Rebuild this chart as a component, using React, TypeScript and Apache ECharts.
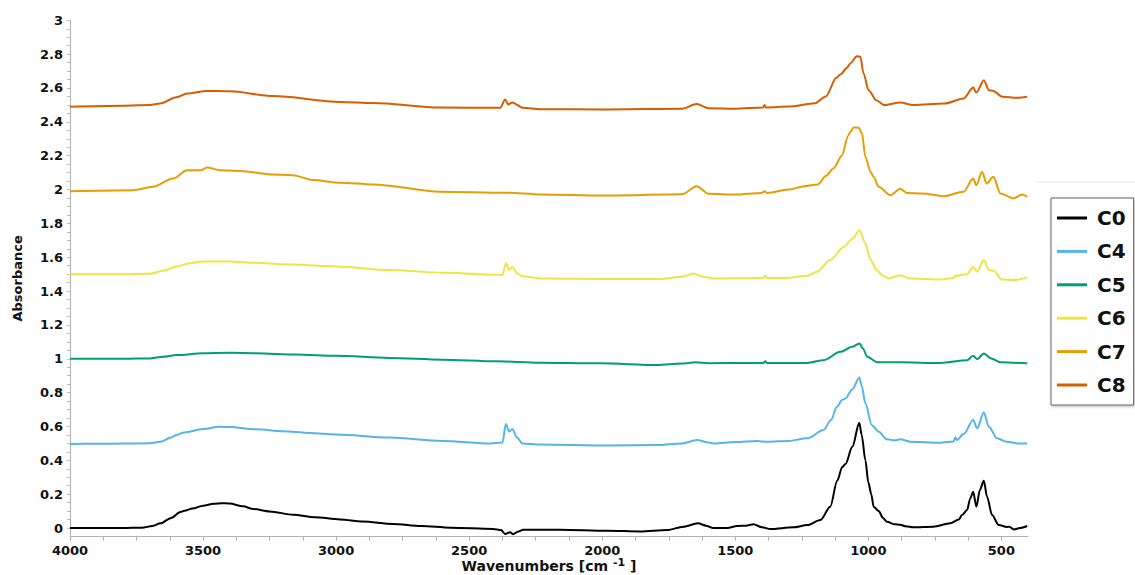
import React, { useEffect, useRef } from "react";
import * as echarts from "echarts";

const seriesNames = ["C0", "C4", "C5", "C6", "C7", "C8"];
const seriesColors = ["#000000", "#56b4e9", "#009e73", "#f0e442", "#e69f00", "#d55e00"];

const c0Data = [
  [4000, 0], [3900, 0], [3800, 0], [3730, 0.002], [3690, 0.012], [3660, 0.028], [3620, 0.06], [3585, 0.095],
  [3570, 0.102], [3540, 0.115], [3500, 0.132], [3460, 0.144], [3430, 0.147], [3400, 0.145], [3350, 0.128],
  [3310, 0.112], [3250, 0.098], [3160, 0.078], [3080, 0.064], [2985, 0.051], [2900, 0.038], [2786, 0.024],
  [2680, 0.012], [2570, 0.002], [2410, -0.005], [2380, -0.012], [2365, -0.035], [2346, -0.025], [2335, -0.036],
  [2315, -0.02], [2297, -0.01], [2160, -0.01], [1980, -0.016], [1857, -0.02], [1756, -0.012], [1695, 0.008],
  [1640, 0.028], [1610, 0.014], [1583, 0.0], [1530, 0.0], [1493, 0.012], [1460, 0.014], [1432, 0.022],
  [1400, 0.005], [1368, -0.006], [1282, 0.004], [1229, 0.018], [1180, 0.047], [1143, 0.126], [1117, 0.28],
  [1098, 0.36], [1086, 0.378], [1060, 0.48], [1034, 0.622], [1025, 0.55], [1011, 0.4], [1000, 0.27],
  [989, 0.2], [980, 0.126], [961, 0.1], [945, 0.06], [930, 0.037], [900, 0.022], [880, 0.02], [860, 0.01],
  [831, 0.004], [756, 0.008], [692, 0.028], [660, 0.05], [648, 0.077], [629, 0.106], [617, 0.175],
  [606, 0.215], [594, 0.126], [581, 0.224], [566, 0.28], [554, 0.185], [535, 0.077], [510, 0.018],
  [479, 0.006], [470, 0.008], [454, -0.008], [430, 0.0], [403, 0.012],
];

const c4Data = [
  [4000, 0.497], [3900, 0.498], [3800, 0.499], [3700, 0.501], [3660, 0.51], [3620, 0.535], [3600, 0.55],
  [3570, 0.565], [3500, 0.585], [3440, 0.598], [3400, 0.597], [3300, 0.583], [3200, 0.572], [3100, 0.562],
  [3000, 0.553], [2800, 0.535], [2600, 0.515], [2420, 0.5], [2375, 0.505], [2362, 0.615], [2350, 0.57],
  [2338, 0.585], [2320, 0.535], [2300, 0.5], [2233, 0.494], [1981, 0.488], [1793, 0.49], [1700, 0.5],
  [1644, 0.52], [1600, 0.505], [1581, 0.5], [1500, 0.508], [1418, 0.514], [1380, 0.51], [1300, 0.515],
  [1230, 0.53], [1168, 0.579], [1140, 0.64], [1118, 0.716], [1099, 0.756], [1086, 0.766], [1060, 0.82],
  [1034, 0.89], [1025, 0.84], [1011, 0.737], [987, 0.608], [961, 0.569], [930, 0.524], [900, 0.518],
  [880, 0.524], [842, 0.51], [729, 0.504], [680, 0.512], [673, 0.536], [668, 0.52], [642, 0.555],
  [606, 0.638], [591, 0.589], [566, 0.683], [547, 0.598], [516, 0.53], [479, 0.51], [440, 0.5], [403, 0.5],
];

const c5Data = [
  [4000, 1.0], [3800, 1.0], [3700, 1.002], [3650, 1.012], [3600, 1.022], [3500, 1.033], [3400, 1.035],
  [3300, 1.033], [3150, 1.025], [3000, 1.018], [2800, 1.005], [2600, 0.995], [2400, 0.985], [2233, 0.977],
  [2008, 0.973], [1794, 0.963], [1700, 0.972], [1650, 0.979], [1600, 0.974], [1481, 0.975], [1395, 0.975],
  [1387, 0.985], [1380, 0.975], [1230, 0.975], [1168, 0.992], [1105, 1.041], [1061, 1.071], [1033, 1.091],
  [1020, 1.06], [1004, 1.012], [966, 0.979], [880, 0.979], [729, 0.975], [629, 0.992], [606, 1.018],
  [591, 0.998], [566, 1.032], [538, 1.002], [504, 0.979], [403, 0.973],
];

const c6Data = [
  [4000, 1.5], [3800, 1.5], [3700, 1.502], [3650, 1.52], [3600, 1.545], [3550, 1.565], [3500, 1.575],
  [3400, 1.575], [3300, 1.567], [3200, 1.558], [3000, 1.546], [2800, 1.524], [2600, 1.509], [2400, 1.497],
  [2375, 1.495], [2362, 1.565], [2350, 1.524], [2338, 1.542], [2320, 1.505], [2300, 1.488], [2233, 1.475],
  [1981, 1.471], [1793, 1.471], [1700, 1.485], [1657, 1.504], [1620, 1.485], [1581, 1.475], [1395, 1.478],
  [1387, 1.49], [1380, 1.478], [1305, 1.478], [1230, 1.49], [1193, 1.514], [1143, 1.583], [1093, 1.661],
  [1060, 1.71], [1033, 1.76], [1011, 1.682], [992, 1.583], [966, 1.52], [945, 1.49], [924, 1.475],
  [880, 1.494], [842, 1.475], [729, 1.469], [680, 1.478], [673, 1.49], [629, 1.5], [606, 1.543],
  [591, 1.514], [566, 1.583], [547, 1.526], [529, 1.52], [498, 1.469], [454, 1.465], [403, 1.481],
];

const c7Data = [
  [4000, 1.99], [3763, 1.996], [3688, 2.016], [3613, 2.065], [3560, 2.114], [3508, 2.114], [3485, 2.13],
  [3436, 2.114], [3361, 2.11], [3237, 2.089], [3162, 2.085], [3086, 2.056], [2985, 2.04], [2861, 2.03],
  [2609, 1.987], [2357, 1.981], [2233, 1.971], [2000, 1.965], [1700, 1.972], [1645, 2.02], [1600, 1.975],
  [1500, 1.97], [1400, 1.98], [1390, 1.99], [1380, 1.98], [1300, 2.0], [1240, 2.02], [1190, 2.03],
  [1160, 2.08], [1130, 2.126], [1100, 2.2], [1075, 2.32], [1068, 2.34], [1055, 2.367], [1036, 2.365],
  [1024, 2.332], [1011, 2.193], [992, 2.105], [980, 2.075], [961, 2.016], [917, 1.966], [880, 2.005],
  [855, 1.98], [797, 1.977], [718, 1.961], [642, 1.987], [606, 2.065], [594, 2.026], [573, 2.105],
  [555, 2.036], [530, 2.075], [504, 1.977], [454, 1.948], [422, 1.971], [403, 1.957],
];

const c8Data = [
  [4000, 2.489], [3800, 2.495], [3700, 2.5], [3662, 2.508], [3600, 2.545], [3560, 2.567], [3485, 2.583],
  [3399, 2.581], [3237, 2.552], [2985, 2.518], [2861, 2.512], [2609, 2.485], [2383, 2.483], [2365, 2.532],
  [2353, 2.503], [2338, 2.515], [2297, 2.483], [2233, 2.475], [2000, 2.473], [1700, 2.478], [1645, 2.505],
  [1600, 2.48], [1500, 2.478], [1395, 2.485], [1390, 2.5], [1385, 2.485], [1300, 2.49], [1200, 2.51],
  [1160, 2.55], [1120, 2.66], [1105, 2.68], [1080, 2.72], [1068, 2.745], [1043, 2.788], [1030, 2.784],
  [1018, 2.686], [999, 2.587], [970, 2.528], [939, 2.499], [880, 2.515], [832, 2.499], [713, 2.508],
  [642, 2.538], [606, 2.603], [594, 2.573], [566, 2.646], [547, 2.587], [530, 2.583], [497, 2.548],
  [441, 2.542], [403, 2.548],
];

const allData = [c0Data, c4Data, c5Data, c6Data, c7Data, c8Data];

const xLabelValues = [4000, 3500, 3000, 2500, 2000, 1500, 1000, 500];
const yLabelValues = [0, 0.2, 0.4, 0.6, 0.8, 1, 1.2, 1.4, 1.6, 1.8, 2, 2.2, 2.4, 2.6, 2.8, 3];

const FONT = "DejaVu Sans";
const AXIS_GRAY = "#b0b0b0";

export default function App() {
  const ref = useRef<HTMLDivElement>(null);

  useEffect(() => {
    if (!ref.current) return;
    const chart = echarts.init(ref.current, undefined, { renderer: "svg" });

    const xTicks: number[] = [];
    for (let v = 4000; v >= 500; v -= 125) xTicks.push(v);
    const yTicks: number[] = [];
    for (let i = 0; i <= 60; i++) yTicks.push(Math.round(i * 5) / 100);

    chart.setOption({
      animation: false,
      backgroundColor: "#ffffff",
      grid: {
        left: 70,
        right: 107,
        top: 20.3,
        bottom: 38.5,
        containLabel: false,
        outerBoundsMode: "none",
      },
      xAxis: {
        type: "value",
        inverse: true,
        min: 400,
        max: 4000,
        name: "{t|Wavenumbers [cm }{s|-1}{t| ]}",
        nameLocation: "middle",
        nameGap: 21.5,
        nameMoveOverlap: false,
        nameTextStyle: {
          rich: {
            t: { fontFamily: FONT, fontWeight: "bold", fontSize: 14, color: "#111", lineHeight: 16 },
            s: {
              fontFamily: FONT,
              fontWeight: "bold",
              fontSize: 11,
              lineHeight: 11,
              color: "#111",
              padding: [0, 0, 7, 0],
            },
          },
        },
        axisLine: { show: true, onZero: false, lineStyle: { color: AXIS_GRAY, width: 1 } },
        axisTick: { show: true, customValues: xTicks, length: 4, lineStyle: { color: AXIS_GRAY } },
        axisLabel: {
          customValues: xLabelValues,
          formatter: (v: number) => String(v),
          fontFamily: FONT,
          fontWeight: "bold",
          fontSize: 13,
          lineHeight: 13,
          color: "#111",
          margin: 7,
        },
        splitLine: { show: false },
      },
      yAxis: {
        type: "value",
        min: -0.05,
        max: 3,
        name: "Absorbance",
        nameLocation: "middle",
        nameRotate: 90,
        nameGap: 46,
        nameMoveOverlap: false,
        nameTextStyle: { fontFamily: FONT, fontWeight: "bold", fontSize: 13, color: "#111" },
        axisLine: { show: true, onZero: false, lineStyle: { color: AXIS_GRAY, width: 1 } },
        axisTick: { show: true, customValues: yTicks, length: 3, lineStyle: { color: "#c0c0c0" } },
        axisLabel: {
          customValues: yLabelValues,
          formatter: (v: number) => String(v),
          fontFamily: FONT,
          fontWeight: "bold",
          fontSize: 13,
          color: "#111",
          margin: 7,
        },
        splitLine: { show: false },
      },
      legend: {
        orient: "vertical",
        left: 1051,
        top: 198,
        icon: "rect",
        itemWidth: 30,
        itemHeight: 3,
        itemGap: 9.4,
        padding: [8, 8, 8, 6],
        backgroundColor: "#ffffff",
        borderColor: "#666666",
        borderWidth: 1,
        shadowColor: "rgba(0,0,0,0.3)",
        shadowBlur: 3,
        shadowOffsetX: 1,
        shadowOffsetY: 1,
        textStyle: {
          fontFamily: FONT,
          fontWeight: "bold",
          fontSize: 20,
          color: "#111",
          lineHeight: 24,
          padding: [0, 0, 0, 5],
        },
        data: seriesNames,
      },
      graphic: [
        {
          type: "line",
          shape: { x1: 1035, y1: 182, x2: 1135, y2: 182 },
          style: { stroke: "#e6e6e6", lineWidth: 1 },
          z: -1,
        },
      ],
      series: seriesNames.map((name, i) => ({
        name,
        type: "line",
        data: allData[i],
        showSymbol: false,
        symbol: "none",
        smooth: 0.3,
        smoothMonotone: "x",
        clip: false,
        lineStyle: { color: seriesColors[i], width: 2 },
        itemStyle: { color: seriesColors[i] },
      })),
    });

    return () => chart.dispose();
  }, []);

  return (
    <div
      ref={ref}
      style={{ position: "absolute", left: 0, top: 0, width: 1135, height: 575 }}
    />
  );
}
